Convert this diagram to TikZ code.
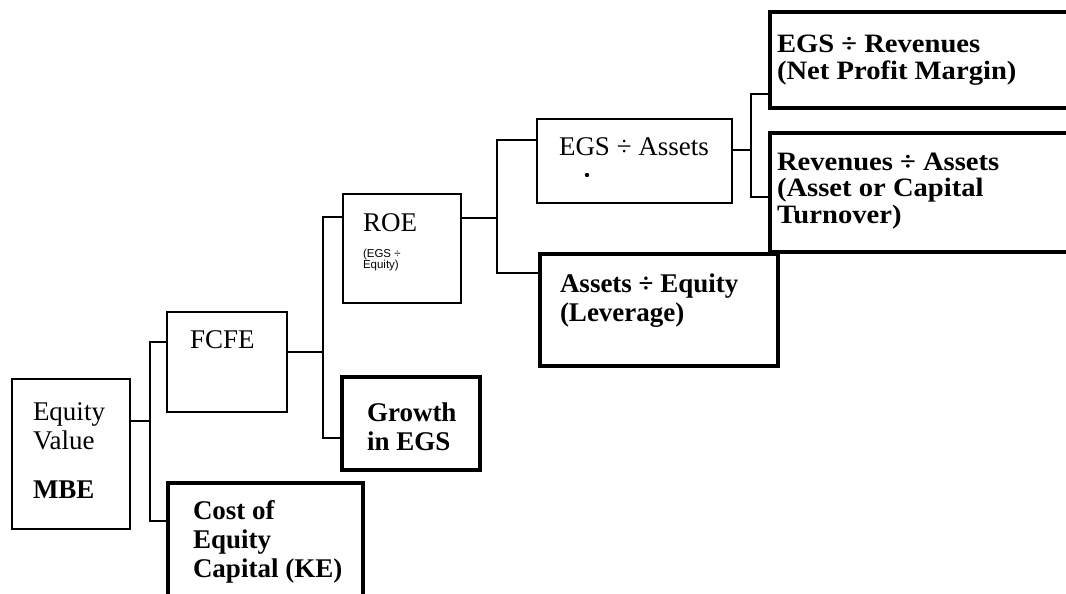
\documentclass[tikz,border=0pt]{standalone}
\usepackage{fontspec}
\setmainfont{Liberation Serif}
\newfontfamily\smallsans{Liberation Sans}
\newfontfamily\widebold[FakeStretch=1.08]{Liberation Serif Bold}
\usetikzlibrary{calc}
\tikzset{
  boxbase/.style={draw, anchor=north west, inner sep=0pt, outer sep=0pt},
  thinbox/.style={boxbase, line width=2.6pt},
  thickbox/.style={boxbase, line width=4.5pt},
  conn/.style={line width=2.4pt},
  txt/.style={anchor=north west, inner sep=0pt, outer sep=0pt, align=left,
    font=\fontsize{27}{29}\selectfont},
  btxt/.style={txt, font=\fontsize{27}{29}\selectfont\bfseries},
  wtxt/.style={txt, font=\widebold\fontsize{26.5}{26.5}\selectfont},
  smalltxt/.style={anchor=north west, inner sep=0pt, outer sep=0pt, align=left,
    font=\smallsans\fontsize{11.5}{11}\selectfont}
}
\begin{document}
\begin{tikzpicture}[x=1pt,y=-1pt]
\useasboundingbox (0,0) rectangle (1066,594);
\clip (0,0) rectangle (1066,594);
% boxes
\node[thinbox, minimum width=118pt, minimum height=150pt] (eq) at (12,379) {};
\node[thinbox, minimum width=120pt, minimum height=100pt] (fcfe) at (167,312) {};
\node[thickbox, minimum width=195pt, minimum height=135pt] (ke) at (168,483) {};
\node[thinbox, minimum width=118pt, minimum height=109pt] (roe) at (343,194) {};
\node[thickbox, minimum width=138pt, minimum height=93pt] (gr) at (342,377) {};
\node[thinbox, minimum width=195pt, minimum height=84pt] (ea) at (537,119) {};
\node[thickbox, minimum width=238pt, minimum height=112pt] (ae) at (540,254) {};
\node[thickbox, minimum width=320pt, minimum height=96pt] (er) at (770,12) {};
\node[thickbox, minimum width=320pt, minimum height=119pt] (ra) at (770,133) {};
% texts
\node[txt] (eqt) at (33,400) {\rule{0pt}{20pt}Equity\\Value\\[20pt]\textbf{MBE}};
\node[txt] (fcfet) at (190,328) {\rule{0pt}{20pt}FCFE};
\node[btxt] (ket) at (193,499) {\rule{0pt}{20pt}Cost of\\Equity\\Capital (KE)};
\node[txt] (roet) at (363,211) {\rule{0pt}{20pt}ROE};
\node[smalltxt] (roes) at (363,249) {\rule{0pt}{8.5pt}(EGS ÷\\Equity)};
\node[btxt] (grt) at (367,401) {\rule{0pt}{20pt}Growth\\in EGS};
\node[txt] (eat) at (559,135) {\rule{0pt}{20pt}EGS ÷ Assets};
\fill (587,175) circle (2.2pt);
\node[btxt] (aet) at (560,272) {\rule{0pt}{20pt}Assets ÷ Equity\\(Leverage)};
\node[wtxt] (ert) at (777,33) {\rule{0pt}{20pt}EGS ÷ Revenues\\(Net Profit Margin)};
\node[wtxt] (rat) at (777,150) {\rule{0pt}{20pt}Revenues ÷ Assets\\(Asset or Capital\\Turnover)};
% connectors
\draw[conn] ($(eq.north east)+(0,42)$) -- ++(20,0) coordinate (j1);
\draw[conn] ($(fcfe.north west)+(0,30)$) -| (j1) |- ($(ke.north west)+(0,38)$);
\draw[conn] ($(fcfe.north east)+(0,40)$) -- ++(36,0) coordinate (j2);
\draw[conn] ($(roe.north west)+(0,23)$) -| (j2) |- ($(gr.north west)+(0,61)$);
\draw[conn] ($(roe.north east)+(0,24)$) -- ++(36,0) coordinate (j3);
\draw[conn] ($(ea.north west)+(0,21)$) -| (j3) |- ($(ae.north west)+(0,19)$);
\draw[conn] ($(ea.north east)+(0,31)$) -- ++(19,0) coordinate (j4);
\draw[conn] ($(er.north west)+(0,82)$) -| (j4) |- ($(ra.north west)+(0,64)$);
\end{tikzpicture}
\end{document}
